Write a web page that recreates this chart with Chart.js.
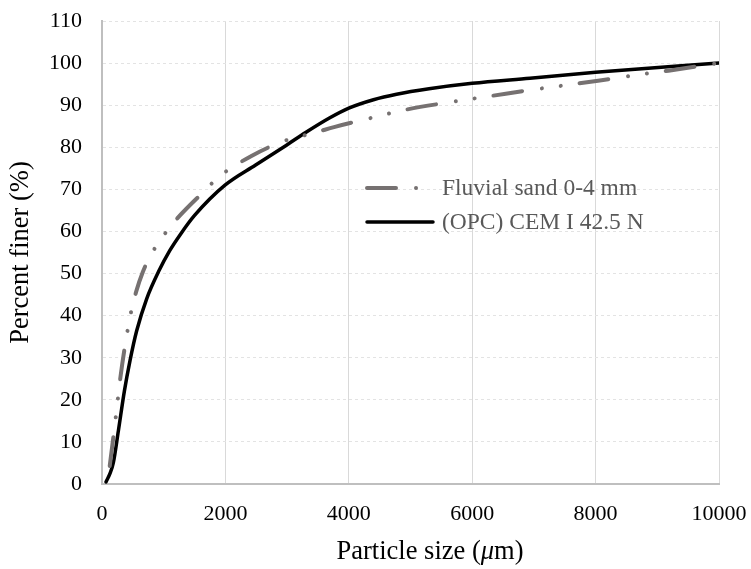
<!DOCTYPE html>
<html>
<head>
<meta charset="utf-8">
<title>Particle size distribution</title>
<script src="https://cdn.jsdelivr.net/npm/chart.js@4/dist/chart.umd.min.js"></script>
<style>
  html, body { margin: 0; padding: 0; background: #fff; }
  #wrap { width: 751px; height: 569px; }
</style>
</head>
<body>
<div id="wrap"><canvas id="psd" width="751" height="569"></canvas></div>
<script>
// grading curves, size in µm and cumulative percent passing
const sandSize  = [125, 200, 240, 300, 375, 480, 560, 660, 765, 1100, 1685, 1895, 2430, 2916, 3190, 3480, 3760, 4315, 4880, 5720, 6310, 6935, 7440, 8040, 8580, 9180, 10000]
const sandFiner = [4.3, 13, 18, 25.5, 33, 41.5, 46, 50.3, 53.7, 61, 70, 73, 78, 81.3, 82.5, 83.6, 84.8, 86.8, 88.8, 90.9, 92.2, 93.6, 94.6, 95.8, 97, 98.2, 100]

const cemSize  = [65, 130, 183, 265, 362, 454, 562, 724, 925, 1100, 1270, 1500, 1993, 2490, 2990, 3300, 3693, 4000, 4400, 4774, 5300, 6000, 6935, 8000, 10000]
const cemFiner = [0.5, 2.5, 5, 12.6, 22, 29.3, 36.4, 44, 50.7, 55.5, 59.3, 63.8, 71, 75.8, 80.5, 83.5, 87, 89.3, 91.3, 92.6, 93.9, 95.2, 96.4, 97.8, 100]

const xTicks = [0, 2000, 4000, 6000, 8000, 10000]
const yTicks = [0, 10, 20, 30, 40, 50, 60, 70, 80, 90, 100, 110]

const SERIF = '"Liberation Serif", "Times New Roman", serif'
const pairs = (xs, ys) => xs.map((x, i) => ({ x, y: ys[i] }))

// legend sits inside the plot, Excel style
const innerLegend = {
  id: 'innerLegend',
  afterDatasetsDraw(chart) {
    const ctx = chart.ctx
    const x0 = 367, x1 = 433, tx = 442
    const rows = [188, 222]
    ctx.save()
    chart.data.datasets.forEach((ds, i) => {
      const y = rows[i]
      ctx.beginPath()
      ctx.lineWidth = ds.borderWidth
      ctx.strokeStyle = ds.borderColor
      ctx.lineCap = ds.borderCapStyle || 'butt'
      ctx.setLineDash(ds.borderDash || [])
      ctx.moveTo(x0, y)
      ctx.lineTo(x1, y)
      ctx.stroke()
      ctx.setLineDash([])
      ctx.fillStyle = '#595959'
      ctx.font = '23.5px ' + SERIF
      ctx.textAlign = 'left'
      ctx.textBaseline = 'middle'
      ctx.fillText(ds.label, tx, y + 1)
    })
    ctx.restore()
  }
}

// x title with italic mu
const xTitle = {
  id: 'xTitle',
  afterDraw(chart) {
    const ctx = chart.ctx
    const parts = [
      ['Particle size (', '26.5px ' + SERIF],
      ['\u03bc', 'italic 26.5px ' + SERIF],
      ['m)', '26.5px ' + SERIF]
    ]
    ctx.save()
    let w = 0
    parts.forEach(p => { ctx.font = p[1]; w += ctx.measureText(p[0]).width })
    let x = 430 - w / 2
    ctx.fillStyle = '#000'
    ctx.textBaseline = 'middle'
    ctx.textAlign = 'left'
    parts.forEach(p => {
      ctx.font = p[1]
      ctx.fillText(p[0], x, 552)
      x += ctx.measureText(p[0]).width
    })
    ctx.restore()
  }
}

new Chart(document.getElementById('psd'), {
  type: 'line',
  data: {
    datasets: [
      {
        label: 'Fluvial sand 0-4 mm',
        data: pairs(sandSize, sandFiner),
        borderColor: '#767171',
        borderWidth: 4,
        borderCapStyle: 'round',
        borderDash: [29, 20, 0.01, 19, 0.01, 19],
        pointRadius: 0,
        cubicInterpolationMode: 'monotone',
        fill: false
      },
      {
        label: '(OPC) CEM I 42.5 N',
        data: pairs(cemSize, cemFiner),
        borderColor: '#000000',
        borderWidth: 3.5,
        borderCapStyle: 'round',
        pointRadius: 0,
        cubicInterpolationMode: 'monotone',
        fill: false
      }
    ]
  },
  options: {
    responsive: false,
    animation: false,
    layout: { padding: { top: 21, right: 32, left: 0, bottom: 0 } },
    plugins: {
      legend: { display: false },
      tooltip: { enabled: false }
    },
    scales: {
      x: {
        type: 'linear',
        min: 0,
        max: 10000,
        afterFit: (s) => {
          s.height = 85
          s.paddingLeft = 0
          s.paddingRight = 0
        },
        afterBuildTicks: (s) => { s.ticks = xTicks.map(v => ({ value: v })) },
        ticks: {
          color: '#000',
          font: { family: SERIF, size: 22 },
          padding: 17,
          maxRotation: 0,
          callback: (v) => String(v)
        },
        grid: { color: '#d9d9d9', lineWidth: 1, drawTicks: false },
        border: { display: true, color: '#bfbfbf', width: 2 }
      },
      y: {
        min: 0,
        max: 110,
        afterFit: (s) => {
          s.width = 102
          s.paddingTop = 0
          s.paddingBottom = 0
        },
        afterBuildTicks: (s) => { s.ticks = yTicks.map(v => ({ value: v })) },
        ticks: {
          color: '#000',
          font: { family: SERIF, size: 22 },
          padding: 20,
          callback: (v) => String(v)
        },
        grid: { color: '#e3e3e3', lineWidth: 1, drawTicks: false },
        border: { display: true, color: '#bfbfbf', width: 2, dash: [3, 3] },
        title: {
          display: true,
          text: 'Percent finer (%)',
          color: '#000',
          font: { family: SERIF, size: 26.5 },
          padding: { top: 5, bottom: 0 }
        }
      }
    }
  },
  plugins: [innerLegend, xTitle]
})
</script>
</body>
</html>
